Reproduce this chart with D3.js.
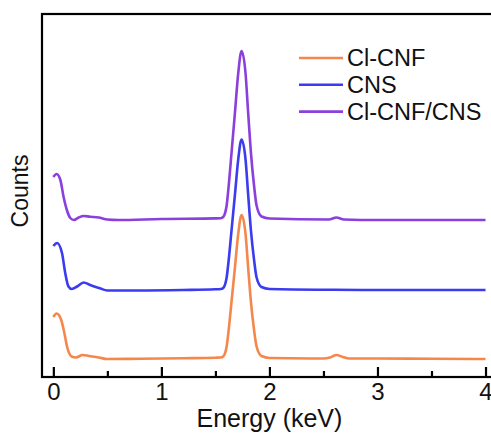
<!DOCTYPE html>
<html>
<head>
<meta charset="utf-8">
<script src="https://cdn.jsdelivr.net/npm/d3@7"></script>
<style>
  body { margin: 0; background: #fff; }
  text { font-family: "Liberation Sans", Arial, sans-serif; fill: #111; }
</style>
</head>
<body>
<div id="chart"></div>
<script>
let width = 491,
    height = 434;

// spectra, [energy keV, counts (a.u., stacked)]
let clCnf = [
  [0.00, 61], [0.03, 64.5], [0.07, 59], [0.10, 46], [0.13, 30], [0.17, 21.5],
  [0.21, 20.5], [0.27, 23], [0.33, 22], [0.42, 20.5], [0.50, 19], [0.80, 19.2],
  [1.20, 19.8], [1.50, 20.3], [1.55, 20.5], [1.572, 21.5], [1.604, 31.5],
  [1.619, 44.3], [1.65, 77.2], [1.681, 110.7], [1.711, 143.8], [1.742, 163],
  [1.779, 143.8], [1.803, 110.7], [1.828, 77.2], [1.859, 47], [1.881, 31.5],
  [1.927, 22], [2.00, 20], [2.50, 19.5], [2.56, 20.5], [2.62, 23], [2.68, 21],
  [2.74, 19.5], [3.00, 19.5], [3.50, 19.3], [4.00, 19]
];

let cns = [
  [0.00, 132], [0.035, 135], [0.08, 125], [0.11, 105], [0.14, 91.5], [0.17, 89],
  [0.22, 91.5], [0.28, 95.5], [0.34, 93], [0.43, 89.7], [0.50, 87.5], [0.80, 87.5],
  [1.20, 88], [1.50, 88.7], [1.55, 89], [1.572, 90], [1.604, 100.5], [1.619, 114],
  [1.65, 148.5], [1.681, 183.6], [1.711, 218.4], [1.742, 238.5], [1.779, 218.4],
  [1.803, 183.6], [1.828, 148.5], [1.859, 117], [1.881, 100.5], [1.927, 91],
  [2.00, 89], [2.60, 88.2], [3.00, 88], [3.50, 88], [4.00, 88]
];

let clCnfCns = [
  [0.00, 201], [0.03, 204], [0.065, 198], [0.095, 181], [0.125, 168], [0.157, 160],
  [0.19, 158], [0.235, 160.5], [0.28, 162], [0.34, 161.3], [0.42, 160.5],
  [0.50, 158.5], [0.60, 158], [1.00, 159], [1.50, 159.6], [1.55, 159.8],
  [1.572, 161], [1.604, 172.5], [1.619, 187.6], [1.65, 226.2], [1.681, 265.5],
  [1.711, 304.5], [1.742, 327], [1.779, 304.5], [1.803, 265.5], [1.828, 226.2],
  [1.859, 191], [1.881, 172.5], [1.927, 161.5], [2.00, 159.5], [2.55, 158.5],
  [2.62, 160.5], [2.69, 158.5], [3.00, 158], [3.50, 158], [4.00, 158]
];

let seriesNames = ["Cl-CNF", "CNS", "Cl-CNF/CNS"];
let seriesColors = ["#f5874d", "#3b3bf0", "#8b3fdc"];
let majorTicks = [0, 1, 2, 3, 4];
let minorTicks = [0.5, 1.5, 2.5, 3.5];

let svg = d3.select("#chart")
  .append("svg")
  .attr("width", width)
  .attr("height", height);

let x = d3.scaleLinear()
  .domain([-0.105, 4.06])
  .range([42, 492]);

let y = d3.scaleLinear()
  .domain([0, 364])
  .range([378, 14]);

let line = d3.line()
  .x(d => x(d[0]))
  .y(d => y(d[1]))
  .curve(d3.curveMonotoneX);

let spectra = [clCnf, cns, clCnfCns];

svg.append("g")
  .selectAll("path")
  .data(spectra)
  .enter().append("path")
  .attr("d", line)
  .attr("fill", "none")
  .attr("stroke", (d, i) => seriesColors[i])
  .attr("stroke-width", 2.6)
  .attr("stroke-linejoin", "round");

// frame (right side runs off the picture)
svg.append("rect")
  .attr("x", 42)
  .attr("y", 14)
  .attr("width", 452)
  .attr("height", 363)
  .attr("fill", "none")
  .attr("stroke", "#000")
  .attr("stroke-width", 2.2);

let xAxis = svg.append("g")
  .attr("transform", "translate(0,377)")
  .call(d3.axisBottom(x)
    .tickValues(majorTicks)
    .tickFormat(d3.format("d"))
    .tickSizeInner(-10)
    .tickSizeOuter(0)
    .tickPadding(6));

xAxis.select(".domain").remove();
xAxis.selectAll(".tick line").attr("stroke", "#000").attr("stroke-width", 2.2);
xAxis.selectAll(".tick text")
  .attr("font-size", 24)
  .attr("font-family", "Liberation Sans, Arial, sans-serif")
  .attr("fill", "#111");

let xMinor = svg.append("g")
  .attr("transform", "translate(0,377)")
  .call(d3.axisBottom(x)
    .tickValues(minorTicks)
    .tickFormat("")
    .tickSizeInner(-6)
    .tickSizeOuter(0));

xMinor.select(".domain").remove();
xMinor.selectAll(".tick line").attr("stroke", "#000").attr("stroke-width", 2.2);

svg.append("text")
  .attr("x", x(2))
  .attr("y", 427)
  .attr("text-anchor", "middle")
  .attr("font-size", 25)
  .text("Energy (keV)");

svg.append("text")
  .attr("transform", "translate(28,191) rotate(-90)")
  .attr("text-anchor", "middle")
  .attr("font-size", 23)
  .text("Counts");

// legend
let legend = svg.append("g")
  .selectAll("g")
  .data(seriesNames)
  .enter().append("g")
  .attr("transform", (d, i) => "translate(0," + (66 + i * 26.8) + ")");

legend.append("line")
  .attr("x1", 299)
  .attr("x2", 343)
  .attr("y1", -8)
  .attr("y2", -8)
  .attr("stroke", (d, i) => seriesColors[i])
  .attr("stroke-width", 2.6);

legend.append("text")
  .attr("x", 347)
  .attr("y", 0)
  .attr("font-size", 23.5)
  .text(d => d);
</script>
</body>
</html>
